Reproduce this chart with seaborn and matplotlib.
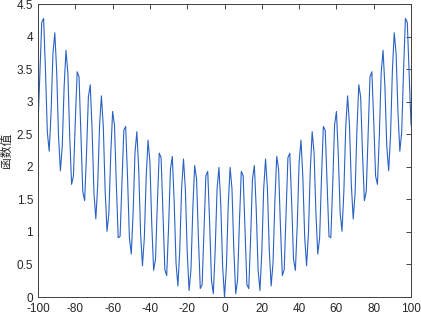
import numpy as np
import matplotlib
matplotlib.use("Agg")
import matplotlib.pyplot as plt
import seaborn as sns
from matplotlib.ticker import FormatStrFormatter

sns.set_style("white")
plt.rcParams['font.family'] = ['Liberation Sans', 'DejaVu Sans']
plt.rcParams['axes.unicode_minus'] = False

# sample grid and values
x_vals = np.arange(-100, 101)
y_vals = [
    2.64, 3.41, 4.22, 4.28, 3.48, 2.53, 2.24, 2.84, 3.74, 4.06,
    3.47, 2.47, 1.94, 2.32, 3.23, 3.79, 3.44, 2.47, 1.73, 1.86,
    2.71, 3.46, 3.38, 2.51, 1.62, 1.48, 2.20, 3.07, 3.26, 2.57,
    1.59, 1.20, 1.72, 2.64, 3.09, 2.62, 1.63, 1.01, 1.29, 2.19,
    2.85, 2.64, 1.72, 0.91, 0.93, 1.73, 2.56, 2.62, 1.84, 0.91,
    0.66, 1.30, 2.22, 2.54, 1.96, 0.98, 0.48, 0.91, 1.84, 2.41,
    2.07, 1.11, 0.41, 0.58, 1.45, 2.21, 2.14, 1.29, 0.42, 0.33,
    1.07, 1.96, 2.16, 1.47, 0.52, 0.17, 0.72, 1.67, 2.12, 1.66,
    0.69, 0.10, 0.42, 1.35, 2.02, 1.82, 0.91, 0.13, 0.19, 1.03,
    1.86, 1.93, 1.16, 0.26, 0.05, 0.72, 1.66, 1.99, 1.42, 0.46,
    0.00,
    0.46, 1.42, 1.99, 1.66, 0.72, 0.05, 0.26, 1.16, 1.93, 1.86,
    1.03, 0.19, 0.13, 0.91, 1.82, 2.02, 1.35, 0.42, 0.10, 0.69,
    1.66, 2.12, 1.67, 0.72, 0.17, 0.52, 1.47, 2.16, 1.96, 1.07,
    0.33, 0.42, 1.29, 2.14, 2.21, 1.45, 0.58, 0.41, 1.11, 2.07,
    2.41, 1.84, 0.91, 0.48, 0.98, 1.96, 2.54, 2.22, 1.30, 0.66,
    0.91, 1.84, 2.62, 2.56, 1.73, 0.93, 0.91, 1.72, 2.64, 2.85,
    2.19, 1.29, 1.01, 1.63, 2.62, 3.09, 2.64, 1.72, 1.20, 1.59,
    2.57, 3.26, 3.07, 2.20, 1.48, 1.62, 2.51, 3.38, 3.46, 2.71,
    1.86, 1.73, 2.47, 3.44, 3.79, 3.23, 2.32, 1.94, 2.47, 3.47,
    4.06, 3.74, 2.84, 2.24, 2.53, 3.48, 4.28, 4.22, 3.41, 2.64,
]
x_ticks = [-100, -80, -60, -40, -20, 0, 20, 40, 60, 80, 100]
y_ticks = [0, 0.5, 1, 1.5, 2, 2.5, 3, 3.5, 4, 4.5]

fig = plt.figure(figsize=(4.21, 3.15), dpi=100)
ax = fig.add_axes([0.0903, 0.0571, 0.886, 0.930])

sns.lineplot(x=x_vals, y=y_vals, color='#2a62c4', linewidth=0.8, ax=ax)

ax.set_xlim(-100, 100)
ax.set_ylim(0, 4.5)
ax.set_xticks(x_ticks)
ax.set_yticks(y_ticks)
ax.yaxis.set_major_formatter(FormatStrFormatter('%g'))
ax.tick_params(direction='in', length=3.5, width=0.6, colors='#262626',
               labelsize=8.5, top=True, right=True)
ax.tick_params(axis='x', labeltop=False, pad=4)
ax.tick_params(axis='y', labelright=False, pad=3.5)
for s in ax.spines.values():
    s.set_color('#404040')
    s.set_linewidth(0.7)

ax.set_xlabel('')
ax.set_ylabel('函数值', family=['Noto Sans CJK SC', 'DejaVu Sans'],
              fontsize=8.5, color='#262626', labelpad=3)

fig.savefig('out.png', dpi=100)
